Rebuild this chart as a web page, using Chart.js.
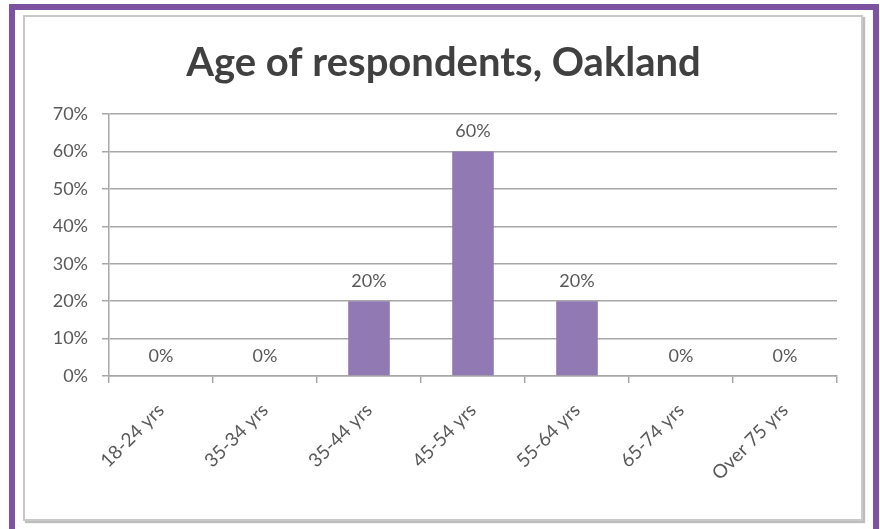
<!DOCTYPE html>
<html>
<head>
<meta charset="utf-8">
<script src="https://cdn.jsdelivr.net/npm/chart.js@4"></script>
<style>
html,body{margin:0;padding:0;background:#fff;}
body{width:880px;height:529px;position:relative;overflow:hidden;}
#outer{position:absolute;left:9px;top:4px;width:858px;height:530px;border:6px solid #7d52a1;box-sizing:content-box;}
#inner{position:absolute;left:23px;top:15px;width:836px;height:502px;border:2px solid #c9c9c9;box-shadow:2px 2px 1px #bdbdbd;}
#wrap{position:absolute;left:0;top:0;width:880px;height:529px;}
</style>
</head>
<body>
<div id="outer"></div>
<div id="inner"></div>
<div id="wrap"><canvas id="c" width="880" height="529"></canvas></div>
<script>
const categories = ["18-24 yrs","35-34 yrs","35-44 yrs","45-54 yrs","55-64 yrs","65-74 yrs","Over 75 yrs"];
const values = [0, 0, 20, 60, 20, 0, 0];
const yTicks = [0, 10, 20, 30, 40, 50, 60, 70];

const FONT = "Lato, 'Open Sans', sans-serif";
const GRID = '#a8a8a8';

const labelPlugin = {
  id: 'barLabels',
  afterDatasetsDraw(chart) {
    const ctx = chart.ctx;
    const meta = chart.getDatasetMeta(0);
    ctx.save();
    ctx.font = "18px " + FONT;
    ctx.fillStyle = '#595959';
    ctx.textAlign = 'center';
    ctx.textBaseline = 'middle';
    meta.data.forEach((bar, i) => {
      ctx.fillText(values[i] + '%', bar.x, bar.y - 20);
    });
    ctx.restore();
  }
};

new Chart(document.getElementById('c'), {
  type: 'bar',
  data: {
    labels: categories,
    datasets: [{
      data: values,
      backgroundColor: '#9179b4',
      borderWidth: 0,
      categoryPercentage: 1,
      barPercentage: 0.4
    }]
  },
  options: {
    responsive: false,
    animation: false,
    layout: { padding: { left: 50, right: 43, top: 0, bottom: 0 } },
    plugins: {
      legend: { display: false },
      tooltip: { enabled: false },
      title: {
        display: true,
        text: 'Age of respondents, Oakland',
        color: '#404040',
        font: { family: FONT, size: 40, weight: 'bold', lineHeight: 1.2 },
        padding: { top: 39, bottom: 27 }
      }
    },
    scales: {
      x: {
        grid: { offset: true, drawOnChartArea: false, drawTicks: true, tickLength: 7, color: GRID, lineWidth: 1.5 },
        border: { display: true, color: GRID, width: 1.5 },
        ticks: {
          color: '#595959',
          font: { family: FONT, size: 19 },
          maxRotation: 45, minRotation: 45,
          padding: 16,
          autoSkip: false
        },
        afterFit(scale) { scale.height = 153; }
      },
      y: {
        min: 0, max: 70,
        afterBuildTicks(scale) { scale.ticks = yTicks.map(v => ({ value: v })); },
        grid: { color: GRID, lineWidth: 1.5, drawTicks: true, tickLength: 7 },
        border: { display: true, color: GRID, width: 1.5 },
        ticks: {
          color: '#595959',
          font: { family: FONT, size: 18 },
          padding: 14,
          callback: v => v + '%'
        },
        afterFit(scale) { scale.width = 59; }
      }
    }
  },
  plugins: [labelPlugin]
});
</script>
</body>
</html>
